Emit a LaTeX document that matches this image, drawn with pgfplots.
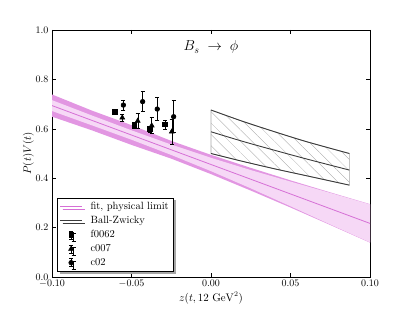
\documentclass[border=0pt]{standalone}
\usepackage{pgfplots}
\pgfplotsset{compat=1.18}
\usetikzlibrary{patterns.meta,shadows}
\definecolor{banddark}{RGB}{226,150,226}
\definecolor{bandlight}{RGB}{246,216,246}
\definecolor{fitline}{RGB}{214,112,214}
\definecolor{bzgray}{RGB}{60,60,60}
\begin{document}
\begin{tikzpicture}
\path[use as bounding box] (0,0) rectangle (411pt,308pt);
\begin{axis}[
  at={(52pt,31pt)}, anchor=south west,
  scale only axis, width=318pt, height=247pt,
  xmin=-0.1, xmax=0.1, ymin=0, ymax=1,
  xtick={-0.1,-0.05,0,0.05,0.1},
  ytick={0,0.2,0.4,0.6,0.8,1.0},
  xticklabel style={/pgf/number format/.cd, fixed, fixed zerofill, precision=2},
  yticklabel style={/pgf/number format/.cd, fixed, fixed zerofill, precision=1},
  scaled x ticks=false,
  tick align=inside, tick pos=both, major tick length=4pt,
  axis line style={line width=0.8pt},
  every tick/.style={black, line width=0.6pt},
  xlabel={$z(t, 12\ \mathrm{GeV}^2)$},
  ylabel={$P(t)V(t)$},
  label style={font=\fontsize{10.5}{12}\selectfont},
  xlabel style={yshift=3pt},
  ylabel style={yshift=-5pt},
  legend cell align=left,
  legend style={at={(0.015,0.021)}, anchor=south west, draw=black, line width=0.8pt, fill=white,
    font=\fontsize{10.5}{12}\selectfont, row sep=1.2pt, inner sep=2.5pt,
    /tikz/every odd column/.append style={column sep=6pt},
    drop shadow={shadow xshift=2.5pt, shadow yshift=-2.5pt, fill=gray!70, opacity=1}},
  errstyle/.style={only marks, black, mark size=2.3pt, line width=0.6pt,
    error bars/y dir=both, error bars/y explicit,
    error bars/error mark options={rotate=90, mark size=2pt, line width=0.6pt}},
  errleg/.style={legend image code/.code={\draw[black, line width=0.6pt] (11pt,-4pt) -- (11pt,4pt) (9pt,-4pt) -- (13pt,-4pt) (9pt,4pt) -- (13pt,4pt); \draw[mark repeat=2, mark phase=2] plot coordinates {(0pt,0pt) (11pt,0pt) (22pt,0pt)};}},
  lineleg/.style={legend image code/.code={\draw (0pt,0pt) -- (22pt,0pt);}},
]
% outer band
\addplot[fill=banddark, draw=none, forget plot] coordinates {
(-0.1,0.739) (-0.075,0.674) (-0.05,0.6148) (-0.025,0.5511) (0,0.4945) (0.025,0.4419) (0.05,0.3913) (0.075,0.3426) (0.1,0.295)
(0.1,0.139) (0.075,0.2106) (0.05,0.2813) (0.025,0.3499) (0,0.4165) (-0.025,0.4791) (-0.05,0.5348) (-0.075,0.594) (-0.1,0.649)
} -- cycle;
% inner band
\addplot[fill=bandlight, draw=none, forget plot] coordinates {
(-0.1,0.716) (-0.075,0.6542) (-0.05,0.5938) (-0.025,0.5361) (0,0.4825) (0.025,0.4329) (0.05,0.3863) (0.075,0.3406) (0.1,0.294)
(0.1,0.140) (0.075,0.2126) (0.05,0.2863) (0.025,0.3589) (0,0.4285) (-0.025,0.4941) (-0.05,0.5558) (-0.075,0.6142) (-0.1,0.672)
} -- cycle;
% central fit line
\addplot[fitline, line width=0.8pt, lineleg] coordinates {(-0.1,0.694) (0.1,0.217)};
\addlegendentry{fit, physical limit}
% Ball-Zwicky hatched region
\addplot[draw=gray!70, line width=0.6pt, pattern={Lines[angle=-45, distance=8pt, line width=0.3pt]}, pattern color=gray!70, forget plot] coordinates {
(0,0.676) (0.02,0.630) (0.04,0.588) (0.06,0.548) (0.087,0.500)
(0.087,0.372) (0.06,0.410) (0.04,0.438) (0.02,0.468) (0,0.500)
} -- cycle;
\addplot[bzgray, line width=0.9pt, smooth, lineleg] coordinates {(0,0.588) (0.02,0.549) (0.04,0.513) (0.06,0.478) (0.087,0.433)};
\addlegendentry{Ball-Zwicky}
\addplot[bzgray, line width=0.9pt, smooth, forget plot] coordinates {(0,0.676) (0.02,0.630) (0.04,0.588) (0.06,0.548) (0.087,0.500)};
\addplot[bzgray, line width=0.9pt, smooth, forget plot] coordinates {(0,0.500) (0.02,0.468) (0.04,0.438) (0.06,0.410) (0.087,0.372)};
% data
\addplot[errstyle, errleg, mark=square*] coordinates {
(-0.0604,0.669) +- (0,0.010)
(-0.0482,0.615) +- (0,0.012)
(-0.0386,0.599) +- (0,0.012)
(-0.0289,0.618) +- (0,0.018)
};
\addlegendentry{f0062}
\addplot[errstyle, errleg, mark=triangle*, mark size=2.8pt] coordinates {
(-0.0558,0.645) +- (0,0.015)
(-0.0461,0.632) +- (0,0.030)
(-0.0373,0.613) +- (0,0.032)
(-0.0247,0.588) +- (0,0.050)
};
\addlegendentry{c007}
\addplot[errstyle, errleg, mark=*] coordinates {
(-0.0551,0.696) +- (0,0.020)
(-0.0430,0.710) +- (0,0.040)
(-0.0338,0.680) +- (0,0.047)
(-0.0235,0.649) +- (0,0.065)
};
\addlegendentry{c02}
\node at (axis cs:0,0.93) {\Large $B_s\;\to\;\phi$};
\end{axis}
\end{tikzpicture}
\end{document}
